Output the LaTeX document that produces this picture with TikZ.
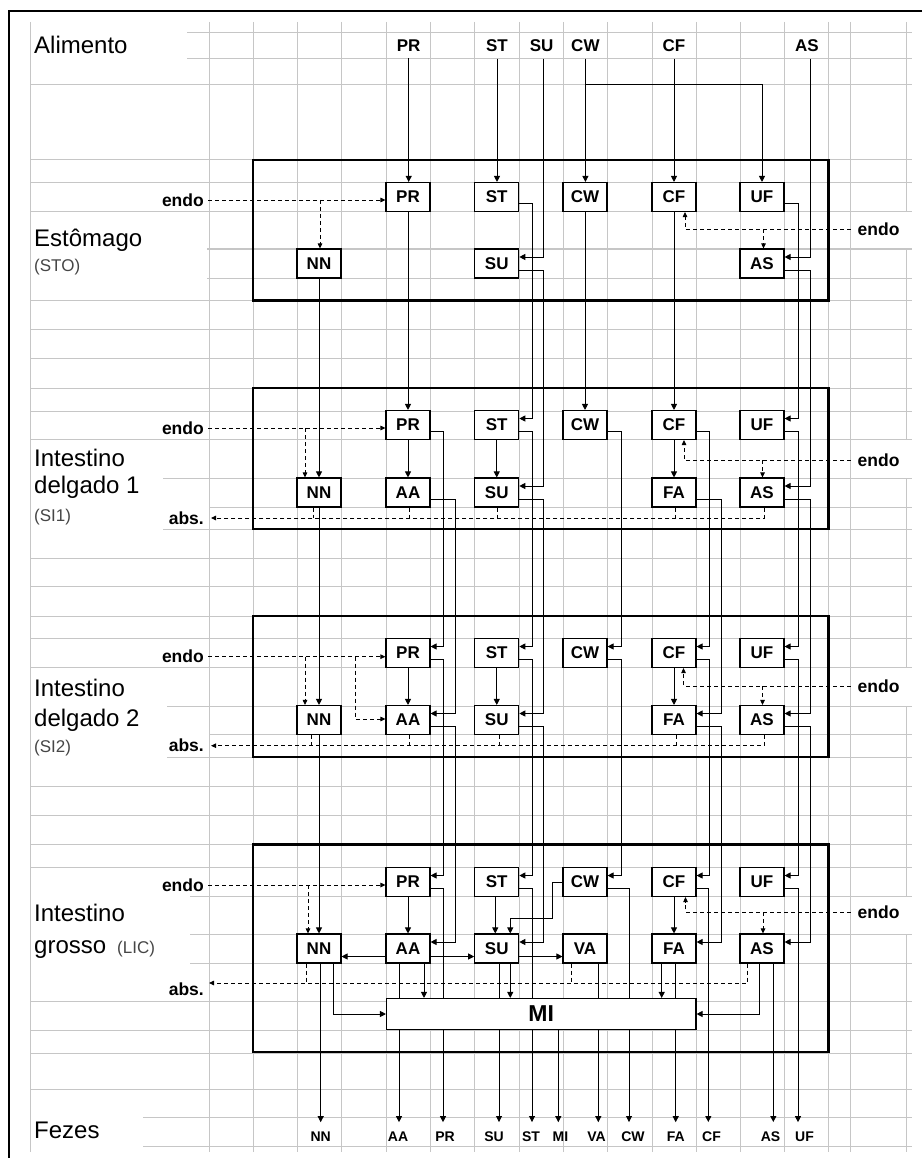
\documentclass[tikz,border=0pt]{standalone}
\usepackage{fontspec}
\setmainfont{Liberation Sans}
\usetikzlibrary{arrows.meta,calc}
\definecolor{gridc}{RGB}{198,198,198}
\definecolor{subc}{RGB}{70,70,70}
\pgfdeclarelayer{bg}
\pgfdeclarelayer{top}
\pgfsetlayers{bg,main,top}
\newcommand{\flowch}[3]{\draw[arr] ([yshift=-6.5pt]#1.east) -- ++(#3,0) |- ([yshift=6.5pt]#2.east);}
\begin{document}
\begin{tikzpicture}[x=1pt,y=-1pt,
  arr/.style={line width=0.9pt,-{Triangle[length=6pt,width=6pt]}},
  darr/.style={line width=0.9pt,dash pattern=on 4pt off 3pt,-{Triangle[length=5pt,width=4.5pt]}},
  dline/.style={line width=0.9pt,dash pattern=on 4pt off 3pt},
  sbox/.style={draw,line width=1.1pt,fill=white,minimum width=44pt,minimum height=29pt,inner sep=0pt,font={\fontsize{17}{17}\selectfont\bfseries}},
  compb/.style={line width=2.2pt},
  gridl/.style={draw=gridc,line width=1pt},
  ttl/.style={anchor=base west,inner sep=0pt,font={\fontsize{24}{24}\selectfont}},
  subl/.style={anchor=base west,inner sep=0pt,text=subc,font={\fontsize{17}{17}\selectfont}},
  inlbl/.style={anchor=base,inner xsep=0pt,inner ysep=6.5pt,font={\fontsize{17}{17}\selectfont\bfseries}},
  outlbl/.style={anchor=base,inner xsep=0pt,inner ysep=9pt,font={\fontsize{14}{14}\selectfont\bfseries}},
  sidel/.style={inner ysep=0pt,font={\fontsize{17.5}{17.5}\selectfont\bfseries}},
]
\useasboundingbox (0,0) rectangle (922,1158);

% ---------- background grid ----------
\begin{pgfonlayer}{bg}
\fill[white] (0,0) rectangle (922,1158);
\foreach \x in {30,209,253,297,341,386,430,474.5,519,563,607,652,696,740,784,828.5,850.5}
  \draw[gridl] (\x,22) -- (\x,1152);
\draw[gridl] (906.7,22) -- (906.7,211.5) (906.7,249) -- (906.7,439)
  (906.7,478) -- (906.7,667.5) (906.7,706) -- (906.7,896.5) (906.7,934) -- (906.7,1152);
\foreach \y/\s in {32.5/187,58.5/187,84.5/30,160/30,182.5/30,211.5/30,249/207,278/207,300.5/30,
  329/30,358/30,388/30,411/30,439/30,478/163,507/209,529/163,558/30,586/30,616/30,638.5/30,
  667.5/30,706/167,734/209,757/167,786/30,815/30,844.5/30,867.5/30,896.5/190,934/190,963/190,
  1001/30,1030/30,1053/30,1089/30,1117/143,1146/143}
  \draw[gridl] (\s,\y) -- (911.5,\y);
\end{pgfonlayer}

% ---------- frame ----------
\draw[line width=1.6pt] (922,11) -- (9,11) -- (9,1158);

% ---------- titles ----------
\node[ttl] (tAl) at (34,54) {Alimento};
\node[ttl] (tSto) at (34,246.7) {Estômago};
\node[subl] (sSto) at (34,271) {(STO)};
\node[ttl] (tSi1a) at (34,466.7) {Intestino};
\node[ttl] (tSi1b) at (34,493.3) {delgado 1};
\node[subl] (sSi1) at (34,521) {(SI1)};
\node[ttl] (tSi2a) at (34,696) {Intestino};
\node[ttl] (tSi2b) at (34,726.7) {delgado 2};
\node[subl] (sSi2) at (34,752) {(SI2)};
\node[ttl] (tLica) at (34,921.7) {Intestino};
\node[ttl] (tLicb) at (34,953.3) {grosso};
\node[subl] (sLic) at (117,953.3) {(LIC)};
\node[ttl] (tFez) at (34,1138.3) {Fezes};

% ---------- compartments ----------
\draw[compb] (253,160) rectangle (828.5,300.5);
\draw[compb] (253,388) rectangle (828.5,529);
\draw[compb] (253,616) rectangle (828.5,757);
\draw[compb] (253,844.5) rectangle (828.5,1052);

% ---------- boxes ----------
% STO
\node[sbox] (stoPR) at (408,197) {PR};
\node[sbox] (stoST) at (496.75,197) {ST};
\node[sbox] (stoCW) at (585,197) {CW};
\node[sbox] (stoCF) at (674,197) {CF};
\node[sbox] (stoUF) at (762,197) {UF};
\node[sbox] (stoNN) at (319,263.5) {NN};
\node[sbox] (stoSU) at (496.75,263.5) {SU};
\node[sbox] (stoAS) at (762,263.5) {AS};
% SI1
\node[sbox] (si1PR) at (408,425) {PR};
\node[sbox] (si1ST) at (496.75,425) {ST};
\node[sbox] (si1CW) at (585,425) {CW};
\node[sbox] (si1CF) at (674,425) {CF};
\node[sbox] (si1UF) at (762,425) {UF};
\node[sbox] (si1NN) at (319,492.5) {NN};
\node[sbox] (si1AA) at (408,492.5) {AA};
\node[sbox] (si1SU) at (496.75,492.5) {SU};
\node[sbox] (si1FA) at (674,492.5) {FA};
\node[sbox] (si1AS) at (762,492.5) {AS};
% SI2
\node[sbox] (si2PR) at (408,653) {PR};
\node[sbox] (si2ST) at (496.75,653) {ST};
\node[sbox] (si2CW) at (585,653) {CW};
\node[sbox] (si2CF) at (674,653) {CF};
\node[sbox] (si2UF) at (762,653) {UF};
\node[sbox] (si2NN) at (319,720) {NN};
\node[sbox] (si2AA) at (408,720) {AA};
\node[sbox] (si2SU) at (496.75,720) {SU};
\node[sbox] (si2FA) at (674,720) {FA};
\node[sbox] (si2AS) at (762,720) {AS};
% LIC
\node[sbox] (licPR) at (408,882) {PR};
\node[sbox] (licST) at (496.75,882) {ST};
\node[sbox] (licCW) at (585,882) {CW};
\node[sbox] (licCF) at (674,882) {CF};
\node[sbox] (licUF) at (762,882) {UF};
\node[sbox] (licNN) at (319,948.5) {NN};
\node[sbox] (licAA) at (408,948.5) {AA};
\node[sbox] (licSU) at (496.75,948.5) {SU};
\node[sbox] (licVA) at (585,948.5) {VA};
\node[sbox] (licFA) at (674,948.5) {FA};
\node[sbox] (licAS) at (762,948.5) {AS};
\begin{pgfonlayer}{top}
\node[draw,line width=1.1pt,fill=white,minimum width=309.5pt,minimum height=31pt,inner sep=0pt,
  font={\fontsize{23}{23}\selectfont\bfseries}] (MI) at (541.25,1014) {MI};
\end{pgfonlayer}

% ---------- input / output labels ----------
\node[inlbl] (aPR) at (408.7,51.7) {PR};
\node[inlbl] (aST) at (497,51.7) {ST};
\node[inlbl] (aSU) at (541.7,51.7) {SU};
\node[inlbl] (aCW) at (585.4,51.7) {CW};
\node[inlbl] (aCF) at (674,51.7) {CF};
\node[inlbl] (aAS) at (807,51.7) {AS};

\node[outlbl] (fNN) at (320.7,1141) {NN};
\node[outlbl] (fAA) at (398,1141) {AA};
\node[outlbl] (fPR) at (445,1141) {PR};
\node[outlbl] (fSU) at (494,1141) {SU};
\node[outlbl] (fST) at (531,1141) {ST};
\node[outlbl] (fMI) at (560.5,1141) {MI};
\node[outlbl] (fVA) at (596.5,1141) {VA};
\node[outlbl] (fCW) at (633,1141) {CW};
\node[outlbl] (fFA) at (675.7,1141) {FA};
\node[outlbl] (fCF) at (711.5,1141) {CF};
\node[outlbl] (fAS) at (770.5,1141) {AS};
\node[outlbl] (fUF) at (804.5,1141) {UF};

% endo / abs labels
\node[sidel,anchor=east,inner xsep=4pt] (eL1) at (208,200) {endo};
\node[sidel,anchor=east,inner xsep=4pt] (eL2) at (208,428) {endo};
\node[sidel,anchor=east,inner xsep=4pt] (eL3) at (208,656.7) {endo};
\node[sidel,anchor=east,inner xsep=4pt] (eL4) at (208,885) {endo};
\node[sidel,anchor=west,inner xsep=7pt] (eR1) at (850.5,229.5) {endo};
\node[sidel,anchor=west,inner xsep=7pt] (eR2) at (850.5,460) {endo};
\node[sidel,anchor=west,inner xsep=7pt] (eR3) at (850.5,686) {endo};
\node[sidel,anchor=west,inner xsep=7pt] (eR4) at (850.5,912.3) {endo};
\node[sidel,anchor=east,inner xsep=7pt] (ab2) at (211,518) {abs.};
\node[sidel,anchor=east,inner xsep=7pt] (ab3) at (211,745.7) {abs.};
\node[sidel,anchor=north east,inner xsep=5pt] (ab4) at (209,983) {abs.};

% ---------- Alimento -> STO ----------
\draw[arr] (aPR.south) -- (aPR.south |- stoPR.north);
\draw[arr] (aST.south) -- (aST.south |- stoST.north);
\draw[arr] ([xshift=1.6pt]aSU.south) |- ([yshift=6.5pt]stoSU.east);
\draw[arr] (aCW.south) -- (aCW.south |- stoCW.north);
\draw[arr] ([yshift=-26pt]aCW.south) -| (stoUF.north);
\draw[arr] (aCF.south) -- (aCF.south |- stoCF.north);
\draw[arr] ([xshift=3pt]aAS.south) |- ([yshift=6.5pt]stoAS.east);

% ---------- STO -> SI1 ----------
\draw[arr] (stoNN.south) -- (si1NN.north);
\draw[arr] (stoPR.south) -- (si1PR.north);
\flowch{stoST}{si1ST}{13}
\flowch{stoSU}{si1SU}{24}
\draw[arr] (stoCW.south) -- (si1CW.north);
\draw[arr] (stoCF.south) -- (si1CF.north);
\flowch{stoUF}{si1UF}{14}
\flowch{stoAS}{si1AS}{26}

% ---------- SI1 -> SI2 -> LIC ----------
\draw[arr] (si1NN.south) -- (si2NN.north);
\draw[arr] (si2NN.south) -- (licNN.north);
\foreach \p/\q in {si1/si2,si2/lic}{
  \flowch{\p PR}{\q PR}{13}
  \flowch{\p AA}{\q AA}{25}
  \flowch{\p ST}{\q ST}{13}
  \flowch{\p SU}{\q SU}{24}
  \flowch{\p CW}{\q CW}{14}
  \flowch{\p CF}{\q CF}{13}
  \flowch{\p FA}{\q FA}{25}
  \flowch{\p UF}{\q UF}{14}
  \flowch{\p AS}{\q AS}{26}
}

% ---------- inside compartments ----------
\foreach \c in {si1,si2}{
  \draw[arr] (\c PR.south) -- (\c AA.north);
  \draw[arr] (\c ST.south) -- (\c SU.north);
  \draw[arr] (\c CF.south) -- (\c FA.north);
}
\draw[arr] (licPR.south) -- (licAA.north);
\draw[arr] ([xshift=-1.5pt]licST.south) -- ([xshift=-1.5pt]licSU.north);
\draw[arr] (licCF.south) -- (licFA.north);
\draw[arr] (licCW.west) -- ++(-10,0) -- ++(0,36.5) -| ([xshift=13.5pt]licSU.north);
\draw[arr] ([yshift=-8pt]licAA.west) -- ([yshift=-8pt]licNN.east);
\draw[arr] ([yshift=-8pt]licAA.east) -- ([yshift=-8pt]licSU.west);
\draw[arr] ([yshift=-8pt]licSU.east) -- ([yshift=-8pt]licVA.west);

% ---------- LIC -> MI and Fezes ----------
\draw[arr] (fNN.north |- licNN.south) -- (fNN.north);
\draw[arr] ([xshift=14pt]licNN.south) |- (MI.west);
\draw[arr] ([xshift=1pt]fAA.north |- licAA.south) -- ([xshift=1pt]fAA.north);
\draw[arr] ([xshift=16pt]licAA.south) -- ([xshift=16pt]licAA.south |- MI.north);
\draw[arr] ([yshift=-6.5pt]licPR.east) -| ([xshift=-2pt]fPR.north);
\draw[arr] ([yshift=-6.5pt]licST.east) -| ([xshift=1pt]fST.north);
\draw[arr] ([xshift=5pt]fSU.north |- licSU.south) -- ([xshift=5pt]fSU.north);
\draw[arr] ([xshift=13.5pt]licSU.south) -- ([xshift=13.5pt]licSU.south |- MI.north);
\draw[arr] ([xshift=-2.2pt]fMI.north |- MI.south) -- ([xshift=-2.2pt]fMI.north);
\draw[arr] ([xshift=1.8pt]fVA.north |- licVA.south) -- ([xshift=1.8pt]fVA.north);
\draw[arr] ([yshift=-6.5pt]licCW.east) -| ([xshift=-4pt]fCW.north);
\draw[arr] ([xshift=-12.3pt]licFA.south) -- ([xshift=-12.3pt]licFA.south |- MI.north);
\draw[arr] (fFA.north |- licFA.south) -- (fFA.north);
\draw[arr] ([yshift=-6.5pt]licCF.east) -| ([xshift=-3.2pt]fCF.north);
\draw[arr] ([xshift=-2.7pt]licAS.south) |- (MI.east);
\draw[arr] ([xshift=2.8pt]fAS.north |- licAS.south) -- ([xshift=2.8pt]fAS.north);
\draw[arr] ([yshift=-6.5pt]licUF.east) -| ([xshift=-6.5pt]fUF.north);

% ---------- endo (left) ----------
\draw[darr] (eL1.east) -- (eL1.east -| stoPR.west);
\draw[darr] ([xshift=1pt]eL1.east -| stoNN.north) -- ([xshift=1pt]stoNN.north);
\draw[darr] (eL2.east) -- (eL2.east -| si1PR.west);
\draw[darr] ([xshift=-14pt]eL2.east -| si1NN.north) -- ([xshift=-14pt]si1NN.north);
\draw[darr] (eL3.east) -- (eL3.east -| si2PR.west);
\draw[darr] ([xshift=-14pt]eL3.east -| si2NN.north) -- ([xshift=-14pt]si2NN.north);
\draw[darr] ([xshift=-30pt]eL3.east -| si2AA.west) |- ([yshift=1pt]si2AA.west);
\draw[darr] (eL4.east) -- (eL4.east -| licPR.west);
\draw[darr] ([xshift=-11pt]eL4.east -| licNN.north) -- ([xshift=-11pt]licNN.north);

% ---------- endo (right) ----------
\draw[darr] (eR1.west) -| ([xshift=11pt]stoCF.south);
\draw[darr] ([xshift=1.5pt]eR1.west -| stoAS.north) -- ([xshift=1.5pt]stoAS.north);
\draw[darr] (eR2.west) -| ([xshift=10pt]si1CF.south);
\draw[darr] ([xshift=0.5pt]eR2.west -| si1AS.north) -- ([xshift=0.5pt]si1AS.north);
\draw[darr] (eR3.west) -| ([xshift=9.5pt]si2CF.south);
\draw[darr] ([xshift=0.5pt]eR3.west -| si2AS.north) -- ([xshift=0.5pt]si2AS.north);
\draw[darr] (eR4.west) -| ([xshift=11.5pt]licCF.south);
\draw[darr] ([xshift=1pt]eR4.west -| licAS.north) -- ([xshift=1pt]licAS.north);

% ---------- abs ----------
\draw[darr] ([xshift=2pt]si1AS.south) |- (ab2.east);
\foreach \n/\d in {si1NN/-6,si1AA/1,si1SU/1,si1FA/1}
  \draw[dline] ([xshift=\d pt]\n.south) -- ([xshift=\d pt]\n.south |- ab2.east);
\draw[darr] ([xshift=2pt]si2AS.south) |- (ab3.east);
\foreach \n/\d in {si2NN/-8,si2AA/1,si2SU/2.5,si2FA/2}
  \draw[dline] ([xshift=\d pt]\n.south) -- ([xshift=\d pt]\n.south |- ab3.east);
\draw[darr] ([xshift=-14.7pt]licAS.south) |- (ab4.north east);
\foreach \n/\d in {licNN/-12.3,licVA/-13.3}
  \draw[dline] ([xshift=\d pt]\n.south) -- ([xshift=\d pt]\n.south |- ab4.north east);
\end{tikzpicture}
\end{document}
